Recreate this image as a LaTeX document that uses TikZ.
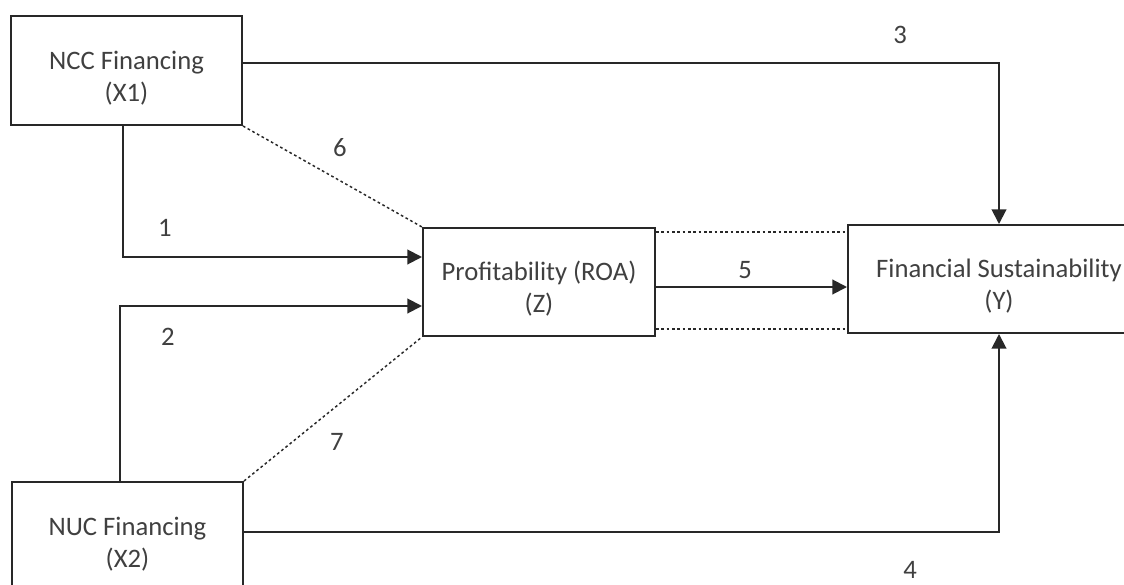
\documentclass[tikz,border=0pt]{standalone}
\usepackage{fontspec}
\setmainfont{Carlito}
\usepackage{tikz}
\usetikzlibrary{arrows.meta,calc,positioning}
\definecolor{mdtext}{RGB}{64,64,64}
\definecolor{mdline}{RGB}{40,40,40}
\tikzstyle{arrow} = [line width=1.5pt,-{Triangle[length=11pt,width=11pt]},color=mdline]
\tikzstyle{dotline} = [line width=1.1pt,dash pattern=on 2pt off 2pt,color=mdline]
\tikzstyle{varbox} = [rectangle, draw=mdline, fill=white, line width=1.5pt, text=mdtext, align=center, inner sep=0pt, text height=49pt, font=\fontsize{20}{24}\selectfont]
\tikzstyle{pathlabel} = [text=mdtext, inner sep=1pt, font=\fontsize{20}{24}\selectfont]

\begin{document}
\begin{tikzpicture}[x=0.75pt, y=-0.75pt]
\clip (0,0) rectangle (1124,585);
\fill[white] (0,0) rectangle (1124,585);
% Variables
\node[varbox, minimum width=231*0.75pt, minimum height=109*0.75pt] (ncc) at (126.5,70.5) {NCC Financing\\(X1)};
\node[varbox, minimum width=231*0.75pt, minimum height=109*0.75pt] (nuc) at (127.5,536.5) {NUC Financing\\(X2)};
\node[varbox, minimum width=232*0.75pt, minimum height=108*0.75pt] (roa) at (539,282) {Profitability (ROA)\\(Z)};
\node[varbox, minimum width=302*0.75pt, minimum height=108*0.75pt] (fs) at (999,279) {Financial Sustainability\\(Y)};

% Paths
\draw[arrow] ($(ncc.south)+(-4,0)$) |- ($(roa.west)+(0,-25)$);
\draw[arrow] ($(nuc.north)+(-8,0)$) |- ($(roa.west)+(0,24)$);
\draw[arrow] ($(ncc.east)+(0,-7)$) -| (fs.north);
\draw[arrow] ($(nuc.east)+(0,-5)$) -| (fs.south);
\draw[arrow] ($(roa.east)+(0,5)$) -- ($(fs.west)+(0,8)$);
\draw[dotline] (ncc.south east) -- (roa.north west);
\draw[dotline] (nuc.north east) -- (roa.south west);
\draw[dotline] ($(roa.north east)+(0,5)$) -- ($(fs.north west)+(0,8)$);
\draw[dotline] ($(roa.south east)+(0,-8)$) -- ($(fs.south west)+(0,-5)$);

% Path numbers
\node[pathlabel] (l1) at (165,228) {1};
\node[pathlabel] (l2) at (168,337) {2};
\node[pathlabel] (l3) at (900,35) {3};
\node[pathlabel] (l4) at (910,570) {4};
\node[pathlabel] (l5) at (745,270) {5};
\node[pathlabel] (l6) at (340,148) {6};
\node[pathlabel] (l7) at (337,442) {7};
\end{tikzpicture}
\end{document}
